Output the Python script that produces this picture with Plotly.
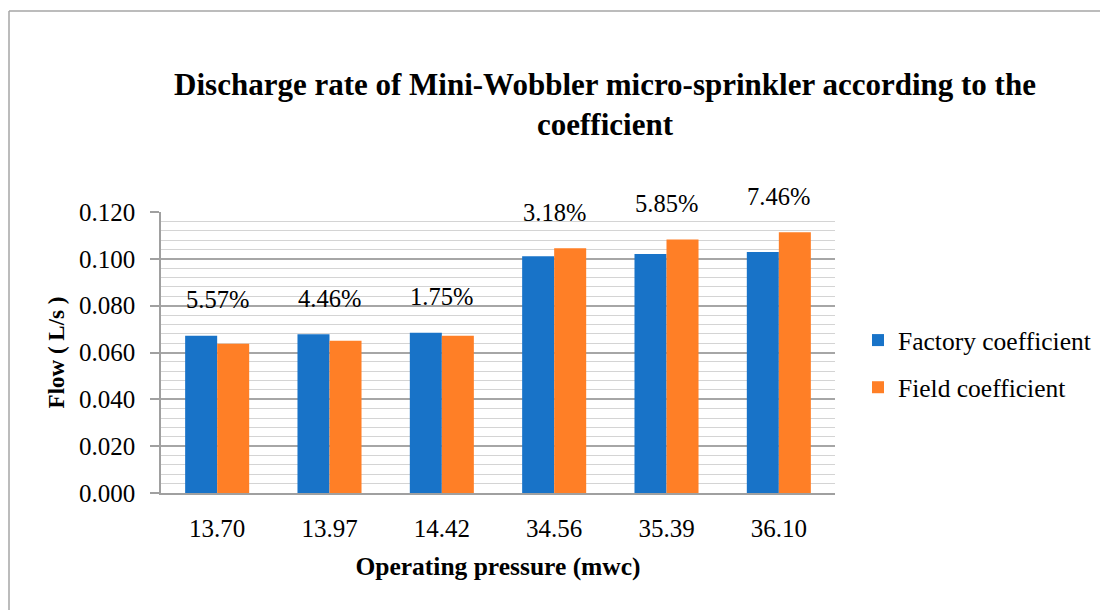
import plotly.graph_objects as go

categories = ["13.70", "13.97", "14.42", "34.56", "35.39", "36.10"]
factory = [0.0672, 0.0678, 0.0684, 0.1011, 0.1021, 0.1029]
field = [0.0637, 0.0650, 0.0672, 0.1045, 0.1083, 0.1113]
pct_labels = ["5.57%", "4.46%", "1.75%", "3.18%", "5.85%", "7.46%"]
y_ticks = [0.0, 0.02, 0.04, 0.06, 0.08, 0.10, 0.12]

FONT = "Liberation Serif"
BLUE = "#1873C8"
ORANGE = "#FF7F26"

fig = go.Figure()
fig.add_trace(go.Bar(x=categories, y=factory, name="Factory coefficient",
                     marker=dict(color=BLUE, line=dict(width=0)), legendgroup="a"))
fig.add_trace(go.Bar(x=categories, y=field, name="Field coefficient",
                     marker=dict(color=ORANGE, line=dict(width=0)), legendgroup="b"))

for i, (a, b, t) in enumerate(zip(factory, field, pct_labels)):
    fig.add_annotation(x=i, y=max(a, b), text=t, showarrow=False,
                       xref="x", yref="y", yanchor="middle", yshift=36,
                       font=dict(family=FONT, size=24.5, color="#000000"))

L, R, T, B = 153, 281, 204, 125
W, H = 1108, 610
pw, ph = W - L - R, H - T - B

# outer chart frame (only top and left edges are visible in the reference)
fx0 = (1 - L) / pw
fy1 = (H - 3 - B) / ph
fig.add_shape(type="line", xref="paper", yref="paper",
              x0=fx0, x1=(W + 60 - L) / pw, y0=fy1, y1=fy1,
              line=dict(color="#A6A6A6", width=1.5), layer="below")
fig.add_shape(type="line", xref="paper", yref="paper",
              x0=fx0, x1=fx0, y0=-(B + 60) / ph, y1=fy1,
              line=dict(color="#A6A6A6", width=1.5), layer="below")

fig.update_layout(
    width=W, height=H,
    margin=dict(l=L, r=R, t=T, b=B, pad=0),
    paper_bgcolor="white", plot_bgcolor="white",
    barmode="group", bargap=0.43, bargroupgap=0,
    font=dict(family=FONT, size=24, color="#000000"),
    title=dict(text="<b>Discharge rate of Mini-Wobbler micro-sprinkler according to the<br>coefficient</b>",
               x=597 / W, xanchor="center", xref="container",
               y=1 - 87 / H, yanchor="top", yref="container",
               font=dict(family=FONT, size=31, color="#000000")),
    legend=dict(x=(850 - L) / pw, xanchor="left", y=(485 - 356) / ph, yanchor="middle",
                font=dict(family=FONT, size=25.5, color="#000000"),
                tracegroupgap=11, bgcolor="rgba(0,0,0,0)"),
    xaxis=dict(type="category", showline=True, linecolor="#A0A0A0", linewidth=2,
               ticks="", tickfont=dict(family=FONT, size=25), tickangle=0,
               automargin=False, ticklabelstandoff=12,
               title=dict(text="<b>Operating pressure (mwc)</b>", standoff=16,
                          font=dict(family=FONT, size=25.5))),
    yaxis=dict(range=[0, 0.12], tickvals=y_ticks, tickformat=".3f",
               showline=True, linecolor="#A0A0A0", linewidth=1.5,
               ticks="outside", ticklen=9, tickcolor="#A0A0A0", tickwidth=1.5,
               showgrid=True, gridcolor="#A6A6A6", gridwidth=1.5,
               zeroline=False, automargin=False,
               minor=dict(dtick=0.004, showgrid=True, gridcolor="#D4D4D4", gridwidth=1.2),
               tickfont=dict(family=FONT, size=25), ticklabelstandoff=10,
               title=dict(text="<b>Flow ( L/s )</b>", standoff=8,
                          font=dict(family=FONT, size=23))),
)

fig.write_html("out.html",
               post_script="document.documentElement.style.overflow='hidden';document.body.style.overflow='hidden';")
